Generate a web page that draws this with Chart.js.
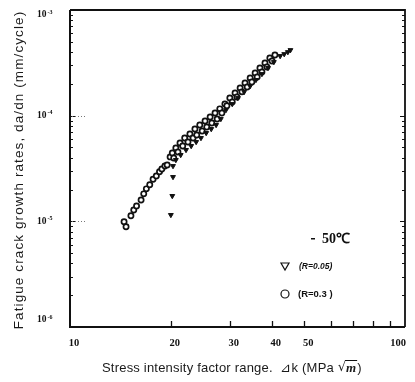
<!DOCTYPE html>
<html><head><meta charset="utf-8">
<script src="https://cdn.jsdelivr.net/npm/chart.js@4.4.0/dist/chart.umd.min.js"></script>
<style>html,body{margin:0;padding:0;background:#fff;}canvas{display:block;}</style>
</head><body>
<canvas id="c" width="415" height="382"></canvas>
<script>
// R = 0.3 (open circles)
const r03_dK = [14.5,14.7,15.2,15.5,15.8,16.3,16.6,16.9,17.3,17.7,18.1,18.5,18.8,19.2,19.5,19.9,
  20.2,20.7,21.3,22.0,22.8,23.6,24.4,25.3,26.2,27.1,28.0,29.0,30.0,31.1,32.2,33.3,34.5,35.7,36.9,38.2,39.5,40.9,
  20.4,21.0,21.7,22.5,23.3,23.9,24.8,25.6,26.5,27.5,28.4,29.4,30.5,31.5,32.6,33.8,34.9,36.2,37.4,38.7,40.1];
const r03_rate = [9.9e-6,8.9e-6,1.13e-5,1.28e-5,1.40e-5,1.59e-5,1.82e-5,2.03e-5,2.22e-5,2.50e-5,2.69e-5,2.95e-5,3.13e-5,3.34e-5,3.42e-5,4.07e-5,
  4.44e-5,4.95e-5,5.52e-5,6.15e-5,6.71e-5,7.48e-5,8.17e-5,8.91e-5,9.72e-5,1.06e-4,1.16e-4,1.29e-4,1.47e-4,1.64e-4,1.83e-4,2.04e-4,2.27e-4,2.54e-4,2.83e-4,3.15e-4,3.51e-4,3.75e-4,
  3.98e-5,4.53e-5,5.17e-5,5.64e-5,6.15e-5,6.57e-5,7.17e-5,7.82e-5,8.53e-5,9.31e-5,1.06e-4,1.24e-4,1.35e-4,1.50e-4,1.68e-4,1.87e-4,2.08e-4,2.32e-4,2.59e-4,2.89e-4,3.29e-4];
// R = 0.05 (triangles)
const r005_dK = [20.3,20.3,20.2,20.0,
  20.7,21.4,22.2,23.0,23.8,24.6,25.5,26.4,27.3,28.2,29.2,30.5,31.7,33.1,34.5,35.9,37.4,39.0,40.6,42.4,43.6,44.7,45.5];
const r005_rate = [3.34e-5,2.63e-5,1.74e-5,1.15e-5,
  3.81e-5,4.25e-5,4.74e-5,5.17e-5,5.64e-5,6.15e-5,6.86e-5,7.48e-5,8.17e-5,9.31e-5,1.13e-4,1.29e-4,1.47e-4,1.68e-4,1.91e-4,2.18e-4,2.48e-4,2.83e-4,3.22e-4,3.67e-4,3.83e-4,4.00e-4,4.18e-4];

const xTickLabels = [10,20,30,40,50,100];
const xTickMarks = [20,30,40,50,60,70,80,90];
const yTickValues = [1e-3,1e-4,1e-5,1e-6];
const yTickExps = ['-3','-4','-5','-6'];
const yTitle = 'Fatigue crack growth rates, da/dn (mm/cycle)';
const xTitle = 'Stress intensity factor range.  \u22BFk (MPa ';
const legendTemp = '50\u2103';
const legendR005 = '(R=0.05)';
const legendR03 = '(R=0.3 )';

const toPts = (xs, ys) => xs.map((x,i)=>({x:x, y:ys[i]}));

const deco = {
  id:'deco',
  afterDraw(chart){
    const ctx = chart.ctx, ca = chart.chartArea;
    const xs = chart.scales.x, ys = chart.scales.y;
    ctx.save();
    ctx.strokeStyle = '#111'; ctx.fillStyle = '#111';
    ctx.lineWidth = 1;
    for (let e=-6; e<=-4; e++){
      for (let k=1;k<=9;k++){
        const v = k*Math.pow(10,e);
        const py = Math.round(ys.getPixelForValue(v))+0.5;
        const len = k===1?5:3;
        ctx.beginPath(); ctx.moveTo(ca.left, py); ctx.lineTo(ca.left+len, py); ctx.stroke();
        ctx.beginPath(); ctx.moveTo(ca.right, py); ctx.lineTo(ca.right-len, py); ctx.stroke();
      }
    }
    ctx.setLineDash([1,2]); ctx.strokeStyle='#777';
    [1e-4,1e-5].forEach(v=>{
      const py = Math.round(ys.getPixelForValue(v))+0.5;
      ctx.beginPath(); ctx.moveTo(ca.left+2, py); ctx.lineTo(ca.left+16, py); ctx.stroke();
    });
    ctx.setLineDash([]); ctx.strokeStyle='#111';
    ctx.lineWidth = 1.3;
    xTickMarks.forEach(v=>{
      const px = Math.round(xs.getPixelForValue(v))+0.5;
      ctx.beginPath(); ctx.moveTo(px, ca.bottom); ctx.lineTo(px, ca.bottom-6); ctx.stroke();
    });
    ctx.lineWidth = 2;
    ctx.beginPath(); ctx.moveTo(ca.left, ca.top); ctx.lineTo(ca.left, ca.bottom); ctx.lineTo(ca.right, ca.bottom); ctx.stroke();
    ctx.lineWidth = 1.8;
    ctx.beginPath(); ctx.moveTo(ca.left, ca.top); ctx.lineTo(ca.right, ca.top); ctx.lineTo(ca.right, ca.bottom); ctx.stroke();
    ctx.font = 'bold 10.5px "Liberation Serif"';
    ctx.textAlign='center'; ctx.textBaseline='middle';
    xTickLabels.forEach(v=>{
      let px = xs.getPixelForValue(v);
      px += (v===100) ? -7 : 4;
      ctx.fillText(String(v), px, ca.bottom+16);
    });
    yTickValues.forEach((v,i)=>{
      let py = ys.getPixelForValue(v);
      py = Math.min(Math.max(py, ca.top+5), ca.bottom-7);
      ctx.font = 'bold 9.5px "Liberation Serif"';
      ctx.textAlign='left'; ctx.textBaseline='middle';
      ctx.fillText('10', 37, py);
      ctx.font = 'bold 6px "Liberation Serif"';
      ctx.fillText(yTickExps[i], 47.5, py-3);
    });
    ctx.save();
    ctx.translate(19, 170); ctx.rotate(-Math.PI/2);
    ctx.font = '13.5px "Liberation Sans"'; ctx.textAlign='center'; ctx.textBaseline='middle';
    ctx.letterSpacing = '1.1px';
    ctx.fillStyle='#1a1a1a';
    ctx.fillText(yTitle, 0, 0);
    ctx.restore();
    ctx.font = '13px "Liberation Sans"'; ctx.textAlign='left'; ctx.textBaseline='middle';
    ctx.letterSpacing = '0.2px';
    ctx.fillStyle='#1a1a1a';
    const tx = 102, ty = 368;
    ctx.fillText(xTitle, tx, ty);
    let w = ctx.measureText(xTitle).width;
    ctx.letterSpacing = '0px';
    ctx.font = '13px "DejaVu Sans"';
    ctx.fillText('\u221A', tx+w, ty);
    const sw = ctx.measureText('\u221A').width;
    ctx.font = 'italic bold 13px "Liberation Serif"';
    ctx.fillText('m', tx+w+sw, ty+1);
    const mw = ctx.measureText('m').width;
    ctx.lineWidth=1; ctx.beginPath(); ctx.moveTo(tx+w+sw-1, ty-7.5); ctx.lineTo(tx+w+sw+mw+1, ty-7.5); ctx.stroke();
    ctx.font = '13px "Liberation Sans"';
    ctx.fillText(')', tx+w+sw+mw+1, ty);
    ctx.fillStyle='#111';
    ctx.fillRect(311, 238, 4, 1.5);
    ctx.font = 'bold 14px "Liberation Serif"'; ctx.textAlign='left';
    ctx.fillText(legendTemp, 322, 239);
    ctx.lineWidth=1.2;
    ctx.beginPath(); ctx.moveTo(281, 263); ctx.lineTo(289, 263); ctx.lineTo(285, 270); ctx.closePath(); ctx.stroke();
    ctx.font = 'italic bold 8.5px "Liberation Sans"';
    ctx.fillText(legendR005, 299, 267);
    ctx.beginPath(); ctx.arc(285, 294, 4, 0, Math.PI*2); ctx.stroke();
    ctx.font = 'bold 9.5px "Liberation Sans"';
    ctx.fillText(legendR03, 298, 294);
    ctx.restore();
  }
};

new Chart(document.getElementById('c'), {
  type:'scatter',
  data:{datasets:[
    {label:'R=0.05', data: toPts(r005_dK, r005_rate), pointStyle:'triangle', rotation:180,
     radius:2.8, backgroundColor:'#111', borderColor:'#111', borderWidth:1},
    {label:'R=0.3', data: toPts(r03_dK, r03_rate), pointStyle:'circle',
     radius:2.6, backgroundColor:'#fff', borderColor:'#111', borderWidth:1.7}
  ]},
  options:{
    responsive:false, animation:false, devicePixelRatio:1,
    layout:{padding:{left:70, right:10, top:10, bottom:55}},
    plugins:{legend:{display:false}, tooltip:{enabled:false}},
    scales:{
      x:{type:'logarithmic', min:10, max:100, ticks:{display:false}, grid:{display:false}, border:{display:false},
         afterFit(s){ s.height = 0; }},
      y:{type:'logarithmic', min:1e-6, max:1e-3, ticks:{display:false}, grid:{display:false}, border:{display:false},
         afterFit(s){ s.width = 0; }}
    }
  },
  plugins:[deco]
});
</script>
</body></html>
